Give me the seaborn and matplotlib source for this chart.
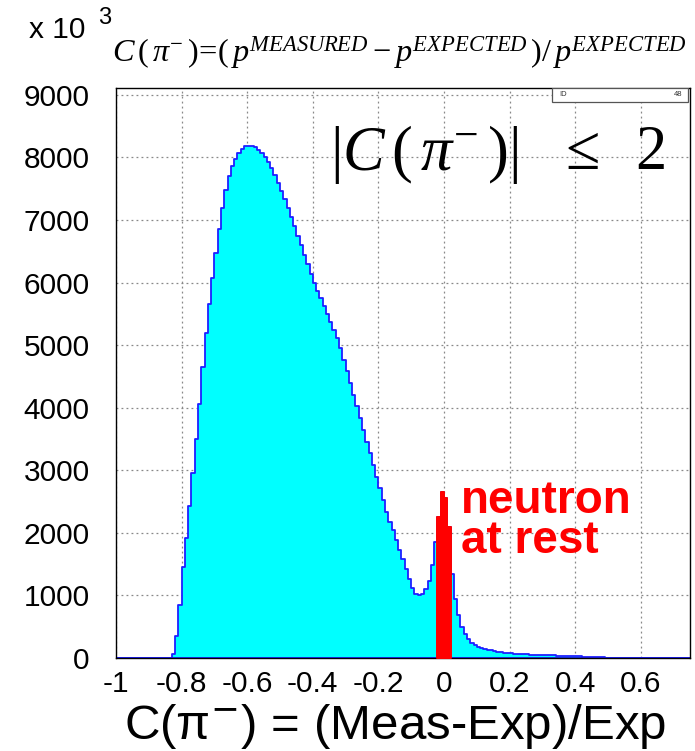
import numpy as np
import pandas as pd
import matplotlib
matplotlib.use("Agg")
import matplotlib.pyplot as plt
import seaborn as sns

# ---------------- data (counts in units of 10^3, bin width 0.01 from -1 to 0.75) ----------------
X_RANGE = (-1.0, 0.75)
BIN_WIDTH = 0.01
COUNTS = (
    [0] * 17
    + [60, 350, 850, 1450, 1920, 2430, 2950, 3500, 4060, 4650, 5200, 5660,
       6080, 6470, 6850, 7200, 7480, 7700, 7860, 7980, 8070, 8140, 8180]
    + [8190, 8180, 8160, 8120, 8070, 8010, 7930, 7830, 7720, 7590]
    + [7460, 7330, 7200, 7050, 6900, 6750, 6600, 6440, 6290, 6130]
    + [6000, 5870, 5750, 5620, 5490, 5370, 5240, 5110, 4950, 4770]
    + [4580, 4390, 4200, 4020, 3830, 3640, 3450, 3270, 3080, 2900]
    + [2720, 2530, 2340, 2170, 2040, 1880, 1730, 1580, 1420, 1260]
    + [1120, 1030, 1000, 1030, 1100, 1230, 1480, 1850, 2250, 2650]
    + [2550, 2100, 1350, 950, 680, 500, 380, 300, 245, 205]
    + [180, 160, 145, 130, 120, 110, 100, 92, 85, 78]
    + [72, 68, 65, 62, 60, 57, 55, 53, 51, 49]
    + [47, 45, 43, 41, 39, 37, 35, 33, 31, 29]
    + [27, 25, 22, 20, 17, 15, 12, 10, 8, 5]
    + [3, 2, 1] + [0] * 22
)
NEUTRON_AT_REST = (-0.02, 0.02)   # highlighted C range
XTICKS = [-1, -0.8, -0.6, -0.4, -0.2, 0, 0.2, 0.4, 0.6]
XTICK_LABELS = ["-1", "-0.8", "-0.6", "-0.4", "-0.2", "0", "0.2", "0.4", "0.6"]
YTICKS = [0, 1000, 2000, 3000, 4000, 5000, 6000, 7000, 8000, 9000]
YTICK_LABELS = ["0", "1000", "2000", "3000", "4000", "5000", "6000", "7000", "8000", "9000"]

n_bins = len(COUNTS)
edges = np.round(X_RANGE[0] + BIN_WIDTH * np.arange(n_bins + 1), 4)
centers = (edges[:-1] + edges[1:]) / 2
df = pd.DataFrame({"C": centers, "N": COUNTS})
red_mask = (df["C"] > NEUTRON_AT_REST[0]) & (df["C"] < NEUTRON_AT_REST[1])
df_red = df[red_mask].reset_index(drop=True)
red_edges = [float(e) for e in edges
             if NEUTRON_AT_REST[0] - 1e-9 <= e <= NEUTRON_AT_REST[1] + 1e-9]

# ---------------- style ----------------
sns.set_style("white")
plt.rcParams["font.family"] = ["Liberation Sans", "DejaVu Sans"]
plt.rcParams["axes.unicode_minus"] = False
plt.rcParams["text.color"] = "black"
plt.rcParams["xtick.color"] = "black"
plt.rcParams["ytick.color"] = "black"
plt.rcParams["mathtext.fontset"] = "custom"
plt.rcParams["mathtext.rm"] = "Liberation Serif"
plt.rcParams["mathtext.it"] = "Liberation Serif:italic"
plt.rcParams["mathtext.bf"] = "Liberation Serif:bold"

W, H = 695, 751
fig = plt.figure(figsize=(W / 100, H / 100), dpi=100)
ax = fig.add_axes([116 / W, 1 - 658 / H, (690 - 116) / W, (658 - 88) / H])

def fx(px):
    return px / W

def fy(py):
    return 1 - py / H

sns.histplot(data=df, x="C", weights="N", bins=[float(e) for e in edges],
             element="step", fill=True, color="#00ffff", alpha=1,
             edgecolor="#1f1fff", linewidth=1.3, ax=ax, zorder=2)
sns.histplot(data=df_red, x="C", weights="N", bins=red_edges,
             element="step", fill=True, color="#ff0000", alpha=1,
             edgecolor="#ff0000", linewidth=1.4, ax=ax, zorder=3)

ax.set_xlim(*X_RANGE)
ax.set_ylim(0, 9110)
ax.set_xticks(XTICKS)
ax.set_xticklabels(XTICK_LABELS)
ax.set_yticks(YTICKS)
ax.set_yticklabels(YTICK_LABELS)
ax.xaxis.set_minor_locator(matplotlib.ticker.MultipleLocator(0.05))
ax.yaxis.set_minor_locator(matplotlib.ticker.MultipleLocator(250))
ax.tick_params(axis="both", which="major", direction="in", length=9, width=1, color="black",
               labelcolor="black", labelsize=21.5, top=False, right=False)
ax.tick_params(axis="both", which="minor", direction="in", length=5, width=0.8, color="black",
               top=False, right=False)
ax.tick_params(axis="x", which="major", pad=9)
ax.tick_params(axis="y", which="major", pad=19)
ax.grid(True, which="major", linestyle=(0, (1.5, 2.5)), color="#888888", linewidth=0.9, zorder=0)
ax.set_axisbelow(True)
for s in ax.spines.values():
    s.set_color("black")
    s.set_linewidth(1.0)
ax.set_xlabel("")
ax.set_ylabel("")

# stat box (top right)
ax.add_patch(matplotlib.patches.Rectangle((fx(552), fy(102)), (688 - 552) / W, 14 / H,
                                          transform=fig.transFigure, facecolor="white",
                                          edgecolor="#555555", linewidth=0.9, zorder=5))
fig.text(fx(563), fy(95), "ID", fontsize=5.5, ha="center", va="center", color="#333333", zorder=6)
fig.text(fx(678), fy(95), "48", fontsize=5.5, ha="center", va="center", color="#333333", zorder=6)

# texts
fig.text(fx(29), fy(38), "x 10", fontsize=21.5, ha="left", va="baseline")
fig.text(fx(98), fy(24), "3", fontsize=17, ha="left", va="baseline")
fig.text(fx(112), fy(62),
         r"$C\,(\,\pi^{-}\,)\!=\!(\,p^{MEASURED}-p^{EXPECTED}\,)/\,p^{EXPECTED}$",
         fontsize=23.3, ha="left", va="baseline")
fig.text(fx(330), fy(170), r"$|C\,(\,\pi^{-}\,)|$", fontsize=45, ha="left", va="baseline")
fig.text(fx(556), fy(169), r"$\leq$", fontsize=45, ha="left", va="baseline")
fig.text(fx(635), fy(169), r"$2$", fontsize=45, ha="left", va="baseline")
fig.text(fx(461), fy(513), "neutron", fontsize=33, fontweight="bold", color="#ff0000",
         ha="left", va="baseline")
fig.text(fx(461), fy(553), "at rest", fontsize=33, fontweight="bold", color="#ff0000",
         ha="left", va="baseline")
fig.text(fx(124), fy(739), r"C(π$^{-}$) = (Meas-Exp)/Exp", fontsize=35.5, ha="left",
         va="baseline", math_fontfamily="dejavusans")

fig.savefig("out.png", dpi=100)
